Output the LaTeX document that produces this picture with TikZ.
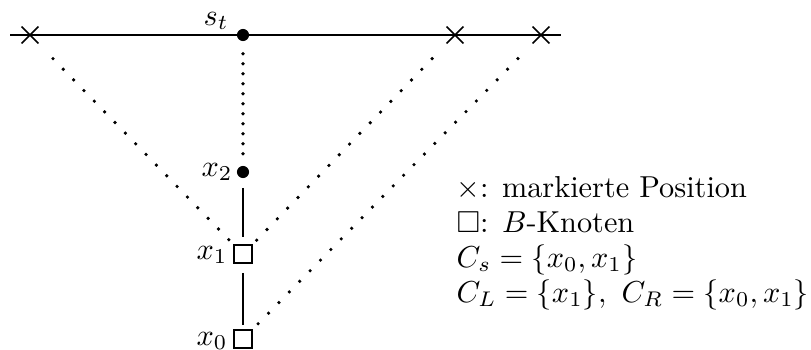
\documentclass[tikz,border=0pt]{standalone}
\usepackage{amssymb}
\usetikzlibrary{shapes.misc}
\begin{document}
\begin{tikzpicture}[x=0.33pt,y=-0.33pt,
  axis/.style={line width=0.8pt},
  markx/.style={cross out,draw,line width=0.55pt,minimum size=5pt,inner sep=0pt},
  dotnode/.style={circle,fill,inner sep=0pt,minimum size=4pt},
  bnode/.style={rectangle,draw,line width=0.45pt,inner sep=0pt,minimum size=6pt},
  dotline/.style={line width=1.2pt,line cap=round,dash pattern=on 0pt off 4.9pt},
  vdotline/.style={line width=1.2pt,line cap=round,dash pattern=on 0pt off 3.3pt},
  solidline/.style={line width=0.75pt},
  lbl/.style={inner sep=0pt},
  legend/.style={anchor=base west,inner sep=0pt}]
\useasboundingbox (0,0) rectangle (811,349);
\coordinate (L) at (10,35);
\coordinate (R) at (561,35);
\draw[axis] (L) -- (R);
\node[markx] (c1) at (30,35) {};
\node[markx] (c2) at (455,35) {};
\node[markx] (c3) at (541,35) {};
\node[dotnode] (st) at (243,35) {};
\node[dotnode] (x2) at (243,172) {};
\node[bnode] (x1) at (243,254) {};
\node[bnode] (x0) at (243,339) {};
\node[lbl] (lst) at (216,21) {$s_t$};
\node[lbl] (lx2) at (217,172) {$x_2$};
\node[lbl] (lx1) at (212,255) {$x_1$};
\node[lbl] (lx0) at (212,341) {$x_0$};
\draw[vdotline,shorten <=4pt,shorten >=3pt] (st) -- (x2);
\draw[dotline,shorten <=7pt,shorten >=1.5pt] (c1) -- (x1.north west);
\draw[dotline,shorten <=7pt,shorten >=1.5pt] (c2) -- (x1.north east);
\draw[dotline,shorten <=7pt,shorten >=1.5pt] (c3) -- (x0.north east);
\draw[solidline,shorten <=3pt,shorten >=2.5pt] (x2) -- (x1);
\draw[solidline,shorten <=3pt,shorten >=1.5pt] (x1) -- (x0);
\node[legend] (t1) at (456,197) {$\times$: markierte Position};
\node[legend] (t2) at (456,232) {$\square$: $B$-Knoten};
\node[legend] (t3) at (456,267) {$C_s=\{x_0,x_1\}$};
\node[legend] (t4) at (456,302) {$C_L=\{x_1\},\ C_R=\{x_0,x_1\}$};
\end{tikzpicture}
\end{document}
